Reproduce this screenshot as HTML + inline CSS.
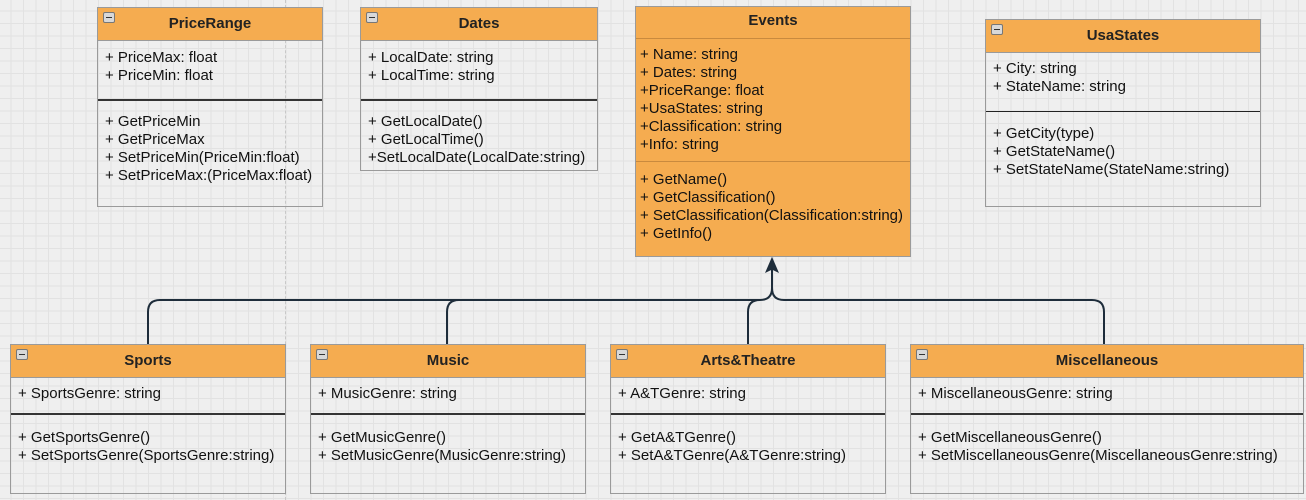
<!DOCTYPE html>
<html><head><meta charset="utf-8"><style>
body{margin:0;width:1306px;height:500px;overflow:hidden;position:relative;font-family:"Liberation Sans",Arial,sans-serif;
background-color:#efefef;
background-image:linear-gradient(#e2e2e2 1px,transparent 1px),linear-gradient(90deg,#e2e2e2 1px,transparent 1px);
background-size:12.5px 12.5px;background-position:-2px -2px;}
.b{position:absolute;border:1px solid #9a9a9a;box-sizing:border-box;}
.h{position:absolute;left:0;right:0;top:0;background:#f5ac50;border-bottom:1px solid #9a9a9a;font-weight:bold;font-size:15px;text-align:center;color:#222;box-sizing:border-box;}
.m{position:absolute;left:5px;top:4px;width:12px;height:11px;background:#d8d8d8;border:1px solid #777;border-radius:2px;box-sizing:border-box;}
.m:after{content:"";position:absolute;left:2px;right:2px;top:4px;height:1px;background:#333;}
.t{position:absolute;left:7px;font-size:15px;line-height:18px;color:#111;white-space:pre;}
.s{position:absolute;left:0;right:0;height:2px;background:#333;}
.dash{position:absolute;left:285px;top:0;height:500px;border-left:1px dashed #c8c8c8;}
</style></head><body>
<div class="dash"></div>

<div class="b" style="left:97px;top:7px;width:226px;height:200px">
<div class="h" style="height:33px;line-height:31px"><div class="m"></div>PriceRange</div>
<div class="t" style="top:41px">+ PriceMax: float
+ PriceMin: float</div>
<div class="s" style="top:91px"></div>
<div class="t" style="top:105px">+ GetPriceMin
+ GetPriceMax
+ SetPriceMin(PriceMin:float)
+ SetPriceMax:(PriceMax:float)</div>
</div>

<div class="b" style="left:360px;top:7px;width:238px;height:164px">
<div class="h" style="height:33px;line-height:31px"><div class="m"></div>Dates</div>
<div class="t" style="top:41px">+ LocalDate: string
+ LocalTime: string</div>
<div class="s" style="top:91px"></div>
<div class="t" style="top:105px">+ GetLocalDate()
+ GetLocalTime()
+SetLocalDate(LocalDate:string)</div>
</div>

<div class="b" style="left:635px;top:6px;width:276px;height:251px;background:#f5ac50">
<div style="position:absolute;left:0;right:0;top:0;height:31px;line-height:27px;text-align:center;font-weight:bold;font-size:15px;color:#222;border-bottom:1px solid #c98a3e">Events</div>
<div class="t" style="top:39px;left:4px">+ Name: string
+ Dates: string
+PriceRange: float
+UsaStates: string
+Classification: string
+Info: string</div>
<div style="position:absolute;left:0;right:0;top:154px;height:1px;background:#c98a3e"></div>
<div class="t" style="top:164px;left:4px">+ GetName()
+ GetClassification()
+ SetClassification(Classification:string)
+ GetInfo()</div>
</div>

<div class="b" style="left:985px;top:19px;width:276px;height:188px">
<div class="h" style="height:33px;line-height:31px"><div class="m"></div>UsaStates</div>
<div class="t" style="top:40px">+ City: string
+ StateName: string</div>
<div class="s" style="top:91px;height:1px;background:#222"></div>
<div class="t" style="top:105px">+ GetCity(type)
+ GetStateName()
+ SetStateName(StateName:string)</div>
</div>

<div class="b" style="left:10px;top:344px;width:276px;height:150px">
<div class="h" style="height:33px;line-height:31px"><div class="m"></div>Sports</div>
<div class="t" style="top:40px">+ SportsGenre: string</div>
<div class="s" style="top:68px"></div>
<div class="t" style="top:84px">+ GetSportsGenre()
+ SetSportsGenre(SportsGenre:string)</div>
</div>

<div class="b" style="left:310px;top:344px;width:276px;height:150px">
<div class="h" style="height:33px;line-height:31px"><div class="m"></div>Music</div>
<div class="t" style="top:40px">+ MusicGenre: string</div>
<div class="s" style="top:68px"></div>
<div class="t" style="top:84px">+ GetMusicGenre()
+ SetMusicGenre(MusicGenre:string)</div>
</div>

<div class="b" style="left:610px;top:344px;width:276px;height:150px">
<div class="h" style="height:33px;line-height:31px"><div class="m"></div>Arts&amp;Theatre</div>
<div class="t" style="top:40px">+ A&amp;TGenre: string</div>
<div class="s" style="top:68px"></div>
<div class="t" style="top:84px">+ GetA&amp;TGenre()
+ SetA&amp;TGenre(A&amp;TGenre:string)</div>
</div>

<div class="b" style="left:910px;top:344px;width:394px;height:150px">
<div class="h" style="height:33px;line-height:31px"><div class="m"></div>Miscellaneous</div>
<div class="t" style="top:40px">+ MiscellaneousGenre: string</div>
<div class="s" style="top:68px"></div>
<div class="t" style="top:84px">+ GetMiscellaneousGenre()
+ SetMiscellaneousGenre(MiscellaneousGenre:string)</div>
</div>

<svg width="1306" height="500" style="position:absolute;left:0;top:0" fill="none" stroke="#1e2d3b" stroke-width="2">
<path d="M148 344 V312 Q148 300 160 300 H760 Q772 300 772 288 V266"/>
<path d="M447 344 V312 Q447 300 459 300"/>
<path d="M748 344 V312 Q748 300 760 300"/>
<path d="M1104 344 V312 Q1104 300 1092 300 H784 Q772 300 772 288"/>
<path d="M766 272 L772 258 L778 272 L772 269 Z" fill="#1e2d3b" stroke-width="1"/>
</svg>
</body></html>
